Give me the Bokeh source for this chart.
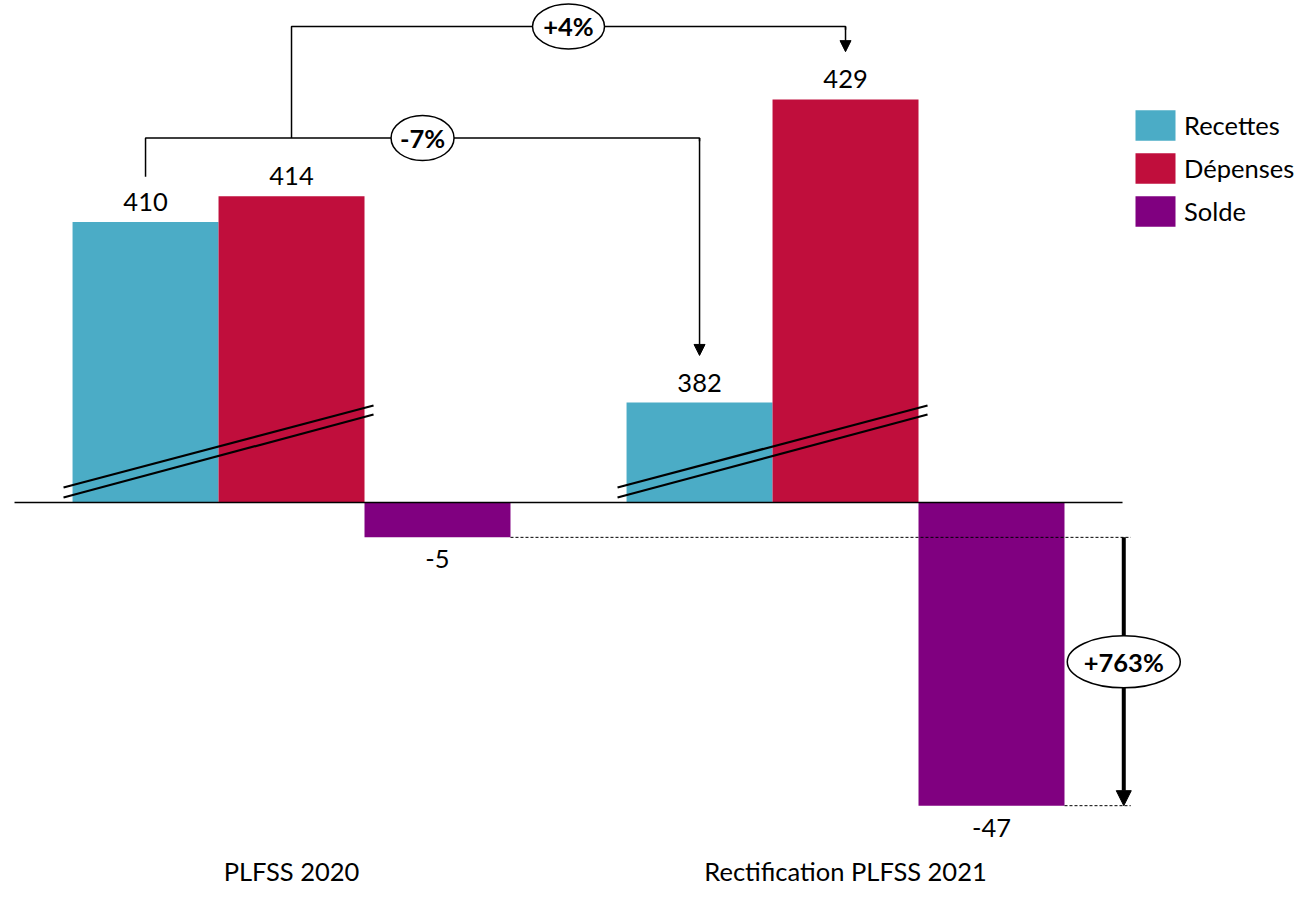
import numpy as np
from bokeh.plotting import figure
from bokeh.models import Range1d, Arrow, NormalHead, Legend, LegendItem, FixedTicker
from bokeh.core.properties import value
from bokeh.embed import file_html
from bokeh.resources import INLINE

# ---- data ----
groups = ["PLFSS 2020", "Rectification PLFSS 2021"]
series = ["Recettes", "Dépenses", "Solde"]
recettes = [410, 382]
depenses = [414, 429]
solde = [-5.4, -47.0]
solde_labels = ["-5", "-47"]
variations = ["-7%", "+4%", "+763%"]
colors = ["#4BACC6", "#C00E3C", "#800080"]

# ---- layout constants ----
BREAK = 366.5      # axis break offset for large positive values
BW = 0.2635        # bar width (group spacing = 1)
FONT = "Lato"
FS = "25.5px"

gx = np.arange(len(groups), dtype=float)
rec_top = np.array(recettes) - BREAK
dep_top = np.array(depenses) - BREAK

p = figure(width=1310, height=900,
           x_range=Range1d(-0.5253, 1.8393), y_range=Range1d(-55.19, 77.83),
           output_backend="svg", toolbar_location=None,
           min_border_left=0, min_border_right=0, min_border_top=0, min_border_bottom=42)
p.outline_line_color = None
p.xgrid.visible = False
p.ygrid.visible = False
p.yaxis.visible = False
p.background_fill_color = "white"

# bars
r_rec = p.vbar(x=gx - BW, top=rec_top, bottom=0, width=BW, fill_color=colors[0], line_color=None)
r_dep = p.vbar(x=gx, top=dep_top, bottom=0, width=BW, fill_color=colors[1], line_color=None)
r_sol = p.vbar(x=gx + BW, top=solde, bottom=0, width=BW, fill_color=colors[2], line_color=None)

# baseline
p.line(x=[-0.5, 1.5], y=[0, 0], line_color="black", line_width=1.5)

# axis break marks
for g in gx:
    x0 = g - 1.5 * BW - 0.0163
    x1 = g + 0.5 * BW + 0.0163
    p.line(x=[x0, x1], y=[2.33, 15.04], line_color="black", line_width=2.2)
    p.line(x=[x0, x1], y=[0.78, 13.64], line_color="black", line_width=2.2)

# value labels
tfont = value(FONT)
p.text(x=gx - BW, y=rec_top + 3.1, text=[str(v) for v in recettes], text_font=tfont,
       text_font_size=FS, text_align="center", text_baseline="middle", text_color="black")
p.text(x=gx, y=dep_top + 3.1, text=[str(v) for v in depenses], text_font=tfont,
       text_font_size=FS, text_align="center", text_baseline="middle", text_color="black")
p.text(x=gx + BW, y=np.array(solde) - 3.4, text=solde_labels, text_font=tfont,
       text_font_size=FS, text_align="center", text_baseline="middle", text_color="black")

head = dict(fill_color="black", line_color="black")

# bracket -7% (Recettes)
xa, xb = gx[0] - BW, gx[1] - BW
h1 = max(rec_top[0], dep_top[0]) + 9.0
p.line(x=[xa, xa, xb, xb], y=[rec_top[0] + 7.0, h1, h1, h1 - 0.5], line_color="black", line_width=1.5)
p.add_layout(Arrow(end=NormalHead(size=11, **head),
                   x_start=xb, y_start=h1, x_end=xb, y_end=rec_top[1] + 7.3,
                   line_color="black", line_width=1.5, level="underlay"))

# bracket +4% (Dépenses)
xc, xd = gx[0], gx[1]
h2 = dep_top[1] + 11.3
p.line(x=[xc, xc, xd, xd], y=[h1, h2, h2, h2 - 0.5], line_color="black", line_width=1.5)
p.add_layout(Arrow(end=NormalHead(size=11, **head),
                   x_start=xd, y_start=h2, x_end=xd, y_end=dep_top[1] + 7.4,
                   line_color="black", line_width=1.5, level="underlay"))

# solde variation
xs = gx[1] + 1.5 * BW + 0.107
p.line(x=[gx[0] + 1.5 * BW, xs + 0.0126], y=[solde[0], solde[0]], line_color="black",
       line_width=1, line_dash="3 2")
p.line(x=[gx[1] + 1.5 * BW, xs + 0.0126], y=[solde[1], solde[1]], line_color="black",
       line_width=1, line_dash="3 2")
p.add_layout(Arrow(end=NormalHead(size=15, **head),
                   x_start=xs, y_start=solde[0], x_end=xs, y_end=solde[1],
                   line_color="black", line_width=4, level="underlay"))

# ellipses + variation labels
ex = [(xa + xb) / 2, (xc + xd) / 2, xs]
ey = [h1, h2, (solde[0] + solde[1]) / 2 + 1.5]
ew = [63, 72, 113]
eh = [45, 45, 52]
p.ellipse(x=ex, y=ey, width=ew, height=eh, width_units="screen", height_units="screen",
          fill_color="white", line_color="black", line_width=1.5)
p.text(x=ex, y=ey, text=variations, text_font=tfont, text_font_size=FS, text_font_style="bold",
       text_align="center", text_baseline="middle", text_color="black")

# category axis labels
p.xaxis.ticker = FixedTicker(ticks=list(gx))
overrides = {float(g): n for g, n in zip(gx, groups)}
overrides.update({int(g): n for g, n in zip(gx, groups)})
p.xaxis.major_label_overrides = overrides
p.xaxis.axis_line_color = None
p.xaxis.major_tick_line_color = None
p.xaxis.minor_tick_line_color = None
p.xaxis.major_tick_out = 0
p.xaxis.major_label_standoff = -3
p.xaxis.major_label_text_font = FONT
p.xaxis.major_label_text_font_size = FS
p.xaxis.major_label_text_color = "black"

# legend
legend = Legend(items=[LegendItem(label=series[0], renderers=[r_rec]),
                       LegendItem(label=series[1], renderers=[r_dep]),
                       LegendItem(label=series[2], renderers=[r_sol])],
                location=(1130, 628), glyph_width=50, glyph_height=38, spacing=5,
                label_standoff=4, padding=0, margin=0, border_line_color=None,
                background_fill_alpha=0, label_text_font=FONT, label_text_font_size=FS,
                label_text_color="black")
p.add_layout(legend)

open("out.html", "w").write(file_html(p, INLINE))
